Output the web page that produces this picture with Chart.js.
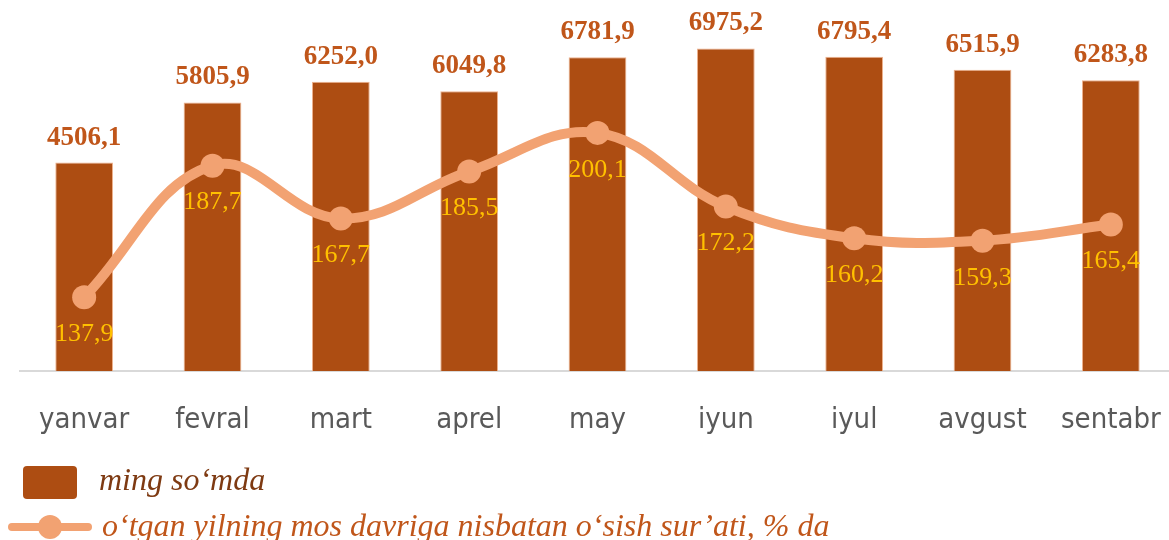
<!DOCTYPE html>
<html>
<head>
<meta charset="utf-8">
<script src="https://cdn.jsdelivr.net/npm/chart.js@4"></script>
<style>
  html, body { margin: 0; padding: 0; background: #ffffff; overflow: hidden; width: 1169px; height: 540px; }
  #wrap { position: absolute; left: 0; top: 0; width: 1180px; height: 540px; }
  canvas { display: block; }
</style>
</head>
<body>
<div id="wrap"><canvas id="c" width="1180" height="540"></canvas></div>
<script>
const categories = ['yanvar', 'fevral', 'mart', 'aprel', 'may', 'iyun', 'iyul', 'avgust', 'sentabr'];
const amountValues = [4506.1, 5805.9, 6252.0, 6049.8, 6781.9, 6975.2, 6795.4, 6515.9, 6283.8];
const growthValues = [137.9, 187.7, 167.7, 185.5, 200.1, 172.2, 160.2, 159.3, 165.4];
const seriesNames = ['ming so‘mda', 'o‘tgan yilning mos davriga nisbatan o‘sish sur’ati, % da'];

const BAR_COLOR = '#AD4D12';
const LINE_COLOR = '#F2A272';
const fmt = v => v.toFixed(1).replace('.', ',');

const labelPlugin = {
  id: 'valueLabels',
  afterDatasetsDraw(chart) {
    const ctx = chart.ctx;
    ctx.save();
    ctx.textAlign = 'center';
    ctx.textBaseline = 'middle';
    const barMeta = chart.getDatasetMeta(0);
    ctx.fillStyle = '#C0561A';
    ctx.font = 'bold 27px "Liberation Serif", "Times New Roman", serif';
    barMeta.data.forEach((el, i) => {
      ctx.fillText(fmt(amountValues[i]), el.x, el.y - 25);
    });
    const lineMeta = chart.getDatasetMeta(1);
    ctx.fillStyle = '#FFC000';
    ctx.font = '26px "Liberation Serif", "Times New Roman", serif';
    lineMeta.data.forEach((el, i) => {
      ctx.fillText(fmt(growthValues[i]), el.x, el.y + 37);
    });
    ctx.restore();
  },
  afterDraw(chart) {
    const ctx = chart.ctx;
    ctx.save();
    // legend item 1: bar box
    ctx.fillStyle = BAR_COLOR;
    ctx.beginPath();
    if (ctx.roundRect) ctx.roundRect(23, 466, 54, 33, 4); else ctx.rect(23, 466, 54, 33);
    ctx.fill();
    ctx.font = 'italic 32px "Liberation Serif", "Times New Roman", serif';
    ctx.textAlign = 'left';
    ctx.textBaseline = 'alphabetic';
    ctx.fillStyle = '#7E3A12';
    ctx.fillText(seriesNames[0], 99, 490);
    // legend item 2: line with marker
    ctx.strokeStyle = LINE_COLOR;
    ctx.lineWidth = 8;
    ctx.lineCap = 'round';
    ctx.beginPath();
    ctx.moveTo(12, 527);
    ctx.lineTo(88, 527);
    ctx.stroke();
    ctx.fillStyle = LINE_COLOR;
    ctx.beginPath();
    ctx.arc(50, 527, 12, 0, Math.PI * 2);
    ctx.fill();
    ctx.fillStyle = '#C0561A';
    ctx.fillText(seriesNames[1], 102, 536);
    ctx.restore();
  }
};

new Chart(document.getElementById('c'), {
  data: {
    labels: categories,
    datasets: [
      {
        type: 'bar',
        label: seriesNames[0],
        data: amountValues,
        backgroundColor: BAR_COLOR,
        borderColor: 'rgba(236,170,130,0.9)',
        borderWidth: 1,
        borderSkipped: 'bottom',
        barPercentage: 0.45,
        categoryPercentage: 1,
        yAxisID: 'y',
        order: 2
      },
      {
        type: 'line',
        label: seriesNames[1],
        data: growthValues,
        borderColor: LINE_COLOR,
        backgroundColor: LINE_COLOR,
        borderWidth: 10,
        pointRadius: 12,
        pointBorderWidth: 0,
        pointBackgroundColor: LINE_COLOR,
        tension: 0.4,
        yAxisID: 'y2',
        order: 1
      }
    ]
  },
  options: {
    responsive: false,
    animation: false,
    events: [],
    layout: { autoPadding: false, padding: { left: 20, right: 5, top: 1, bottom: 69 } },
    plugins: {
      legend: { display: false },
      tooltip: { enabled: false },
      title: { display: false }
    },
    scales: {
      x: {
        offset: true,
        grid: { display: false, drawTicks: true, tickLength: 32 },
        border: { display: true, color: '#D9D9D9', width: 2 },
        ticks: {
          color: '#595959',
          padding: 0,
          font: { family: '"DejaVu Sans Condensed", "DejaVu Sans", sans-serif', size: 29 },
          maxRotation: 0,
          autoSkip: false
        },
        afterFit(scale) { scale.height = 100; scale.paddingLeft = 0; scale.paddingRight = 0; }
      },
      y: { display: false, min: 0, max: 8000 },
      y2: { display: false, min: 110, max: 250, position: 'right' }
    }
  },
  plugins: [labelPlugin]
});
</script>
</body>
</html>
